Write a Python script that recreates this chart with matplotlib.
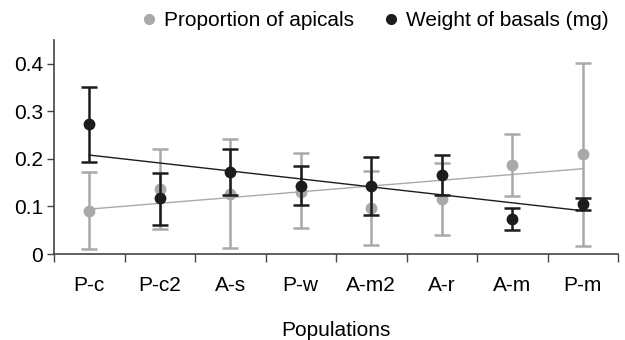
import matplotlib.pyplot as plt
from matplotlib.lines import Line2D
import numpy as np

plt.rcParams['font.family'] = ['Liberation Sans', 'DejaVu Sans']

# data
populations = ["P-c", "P-c2", "A-s", "P-w", "A-m2", "A-r", "A-m", "P-m"]

apical_mean = [0.091, 0.137, 0.126, 0.131, 0.097, 0.116, 0.187, 0.210]
apical_high = [0.172, 0.221, 0.242, 0.212, 0.175, 0.192, 0.253, 0.402]
apical_low = [0.010, 0.053, 0.013, 0.054, 0.019, 0.041, 0.121, 0.017]

basal_mean = [0.273, 0.117, 0.173, 0.144, 0.143, 0.166, 0.074, 0.106]
basal_high = [0.352, 0.171, 0.221, 0.185, 0.204, 0.208, 0.097, 0.118]
basal_low = [0.194, 0.062, 0.125, 0.102, 0.082, 0.124, 0.051, 0.093]

gray = "#a9a9a9"
black = "#1c1c1c"

x = np.arange(len(populations))

fig = plt.figure(figsize=(6.25, 3.4), dpi=100)
ax = fig.add_axes([54 / 625, 1 - 254 / 340, 564 / 625, 214 / 340])

def draw(mean, low, high, color, z):
    mean = np.array(mean)
    err = [mean - np.array(low), np.array(high) - mean]
    ax.errorbar(x, mean, yerr=err, fmt="o", color=color, ecolor=color,
                markersize=7.5, elinewidth=1.8, capsize=6, capthick=1.8,
                zorder=z)
    # linear trend line
    k, b = np.polyfit(x, mean, 1)
    ax.plot([x[0], x[-1]], [k * x[0] + b, k * x[-1] + b], color=color,
            linewidth=1.0, zorder=z - 1)

draw(apical_mean, apical_low, apical_high, gray, 3)
draw(basal_mean, basal_low, basal_high, black, 5)

ax.set_xlim(-0.5, len(populations) - 0.5)
ax.set_ylim(0, 0.45)
ax.set_yticks([0, 0.1, 0.2, 0.3, 0.4])
ax.set_yticklabels(["0", "0.1", "0.2", "0.3", "0.4"])
ax.set_xticks(x)
ax.set_xticklabels(populations)
ax.set_xticks(np.arange(-0.5, len(populations)), minor=True)
ax.tick_params(axis="x", which="major", length=0, pad=16, labelsize=15)
ax.tick_params(axis="x", which="minor", length=6, width=1, color="#444444")
ax.tick_params(axis="y", length=5, width=1, color="#444444", labelsize=15, pad=3)

for s in ["top", "right"]:
    ax.spines[s].set_visible(False)
for s in ["left", "bottom"]:
    ax.spines[s].set_color("#444444")
    ax.spines[s].set_linewidth(1.2)

fig.text(336 / 625, 1 - 330 / 340, "Populations", ha="center", va="center",
         fontsize=15)

handles = [Line2D([], [], linestyle="none", marker="o", color=gray, markersize=7),
           Line2D([], [], linestyle="none", marker="o", color=black, markersize=7)]
labels = ["Proportion of apicals", "Weight of basals (mg)"]
fig.legend(handles, labels, loc="center", bbox_to_anchor=(375 / 625, 1 - 21 / 340),
           ncol=2, frameon=False, fontsize=15, handletextpad=0.32,
           columnspacing=1.38, handlelength=0.8, borderpad=0, borderaxespad=0)

fig.savefig("out.png", dpi=100)
